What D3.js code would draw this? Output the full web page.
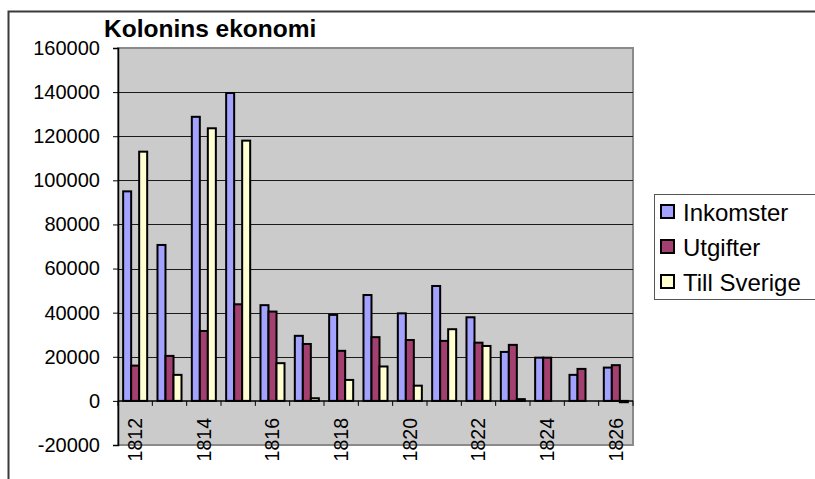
<!DOCTYPE html>
<html>
<head>
<meta charset="utf-8">
<script src="https://cdnjs.cloudflare.com/ajax/libs/d3/7.8.5/d3.min.js"></script>
<style>
  body { margin: 0; background: #fff; }
  svg { display: block; font-family: Arial, "Liberation Sans", sans-serif; }
</style>
</head>
<body>
<div id="chart"></div>
<script>
// data
const years = ["1812", "1813", "1814", "1815", "1816", "1817", "1818", "1819", "1820", "1821", "1822", "1823", "1824", "1825", "1826"];
const seriesNames = ["Inkomster", "Utgifter", "Till Sverige"];
const inkomster = [95000, 70700, 128800, 139600, 43400, 29500, 39000, 48000, 39700, 52100, 37900, 22200, 19600, 11800, 15100];
const utgifter = [16000, 20400, 31700, 43800, 40500, 25800, 22700, 28900, 27600, 27200, 26400, 25400, 19600, 14500, 16200];
const tillSverige = [113000, 11800, 123600, 118000, 17100, 1200, 9500, 15600, 6900, 32500, 24900, 800, 0, 0, -600];
const yTicks = [-20000, 0, 20000, 40000, 60000, 80000, 100000, 120000, 140000, 160000];
const labelledYears = ["1812", "1814", "1816", "1818", "1820", "1822", "1824", "1826"];
const colors = ["#a3a3ff", "#a3406f", "#ffffd2"];

const values = [inkomster, utgifter, tillSverige];

const W = 815, H = 479;
const plot = {left: 118, top: 48, right: 633, bottom: 445};

const svg = d3.select("#chart").append("svg")
  .attr("width", W)
  .attr("height", H);

// outer frame (right and bottom fall outside the picture)
svg.append("path")
  .attr("d", `M8.5,${H} V11.5 H${W}`)
  .attr("fill", "none")
  .attr("stroke", "#3a3a3a")
  .attr("stroke-width", 2);

// scales
const x = d3.scaleBand()
  .domain(years)
  .range([plot.left, plot.right]);

const groupW = x.bandwidth() * 0.70;
const xInner = d3.scaleBand()
  .domain(seriesNames)
  .range([0, groupW]);

const y = d3.scaleLinear()
  .domain([-20000, 160000])
  .range([plot.bottom, plot.top]);

// plot background
svg.append("rect")
  .attr("x", plot.left)
  .attr("y", plot.top)
  .attr("width", plot.right - plot.left)
  .attr("height", plot.bottom - plot.top)
  .attr("fill", "#cbcbcb")
  .attr("stroke", "#8a8a8a")
  .attr("stroke-width", 2);

// gridlines
svg.append("g")
  .selectAll("line")
  .data(yTicks.filter(d => d > 0 && d < 160000))
  .join("line")
    .attr("x1", plot.left)
    .attr("x2", plot.right)
    .attr("y1", d => Math.round(y(d)) + 0.5)
    .attr("y2", d => Math.round(y(d)) + 0.5)
    .attr("stroke", "#1a1a1a")
    .attr("stroke-width", 1);

// bars
const groups = svg.append("g")
  .selectAll("g")
  .data(years)
  .join("g")
    .attr("transform", d => `translate(${x(d) + (x.bandwidth() - groupW) / 2},0)`);

groups.selectAll("rect")
  .data((d, i) => seriesNames.map((s, j) => ({series: s, value: values[j][i], j: j})))
  .join("rect")
    .filter(d => d.value !== 0)
    .attr("x", d => xInner(d.series))
    .attr("y", d => y(Math.max(0, d.value)))
    .attr("width", xInner.bandwidth())
    .attr("height", d => Math.abs(y(d.value) - y(0)))
    .attr("fill", d => colors[d.j])
    .attr("stroke", "#000")
    .attr("stroke-width", 2);

// y axis
const yAxis = d3.axisLeft(y)
  .tickValues(yTicks)
  .tickSize(5)
  .tickFormat(d => String(d));

const gY = svg.append("g")
  .attr("transform", `translate(${plot.left},0)`)
  .call(yAxis);
gY.select(".domain").attr("stroke", "#000").attr("stroke-width", 1.5);
gY.selectAll(".tick line").attr("stroke", "#000");
gY.selectAll(".tick text")
  .attr("x", -18)
  .attr("fill", "#000")
  .style("font-size", "20px");

// x axis at zero
const gX = svg.append("g")
  .attr("transform", `translate(0,${y(0)})`);

gX.append("line")
  .attr("x1", plot.left)
  .attr("x2", plot.right)
  .attr("stroke", "#000")
  .attr("stroke-width", 1.5);

gX.selectAll(".xtick")
  .data(years.concat(["end"]))
  .join("line")
    .attr("class", "xtick")
    .attr("x1", d => d === "end" ? plot.right : x(d))
    .attr("x2", d => d === "end" ? plot.right : x(d))
    .attr("y1", 0)
    .attr("y2", 5)
    .attr("stroke", "#000");

// rotated year labels
svg.append("g")
  .selectAll("text")
  .data(labelledYears)
  .join("text")
    .attr("transform", d => `translate(${x(d) + x.bandwidth() / 2},418) rotate(-90)`)
    .attr("text-anchor", "end")
    .attr("dy", "0.35em")
    .style("font-size", "19.5px")
    .text(d => d);

// title
svg.append("text")
  .attr("x", 104)
  .attr("y", 37)
  .style("font-size", "24.5px")
  .style("font-weight", "bold")
  .text("Kolonins ekonomi");

// legend
const legend = svg.append("g");
legend.append("rect")
  .attr("x", 654.5)
  .attr("y", 194.5)
  .attr("width", 200)
  .attr("height", 105)
  .attr("fill", "#fff")
  .attr("stroke", "#555");

const item = legend.selectAll(".item")
  .data(seriesNames)
  .join("g")
    .attr("class", "item")
    .attr("transform", (d, i) => `translate(661,${212 + i * 35})`);

item.append("rect")
  .attr("x", 0)
  .attr("y", -7)
  .attr("width", 13)
  .attr("height", 13)
  .attr("fill", (d, i) => colors[i])
  .attr("stroke", "#000")
  .attr("stroke-width", 2);

item.append("text")
  .attr("x", 22)
  .attr("dy", "0.36em")
  .style("font-size", "24px")
  .text(d => d);
</script>
</body>
</html>
